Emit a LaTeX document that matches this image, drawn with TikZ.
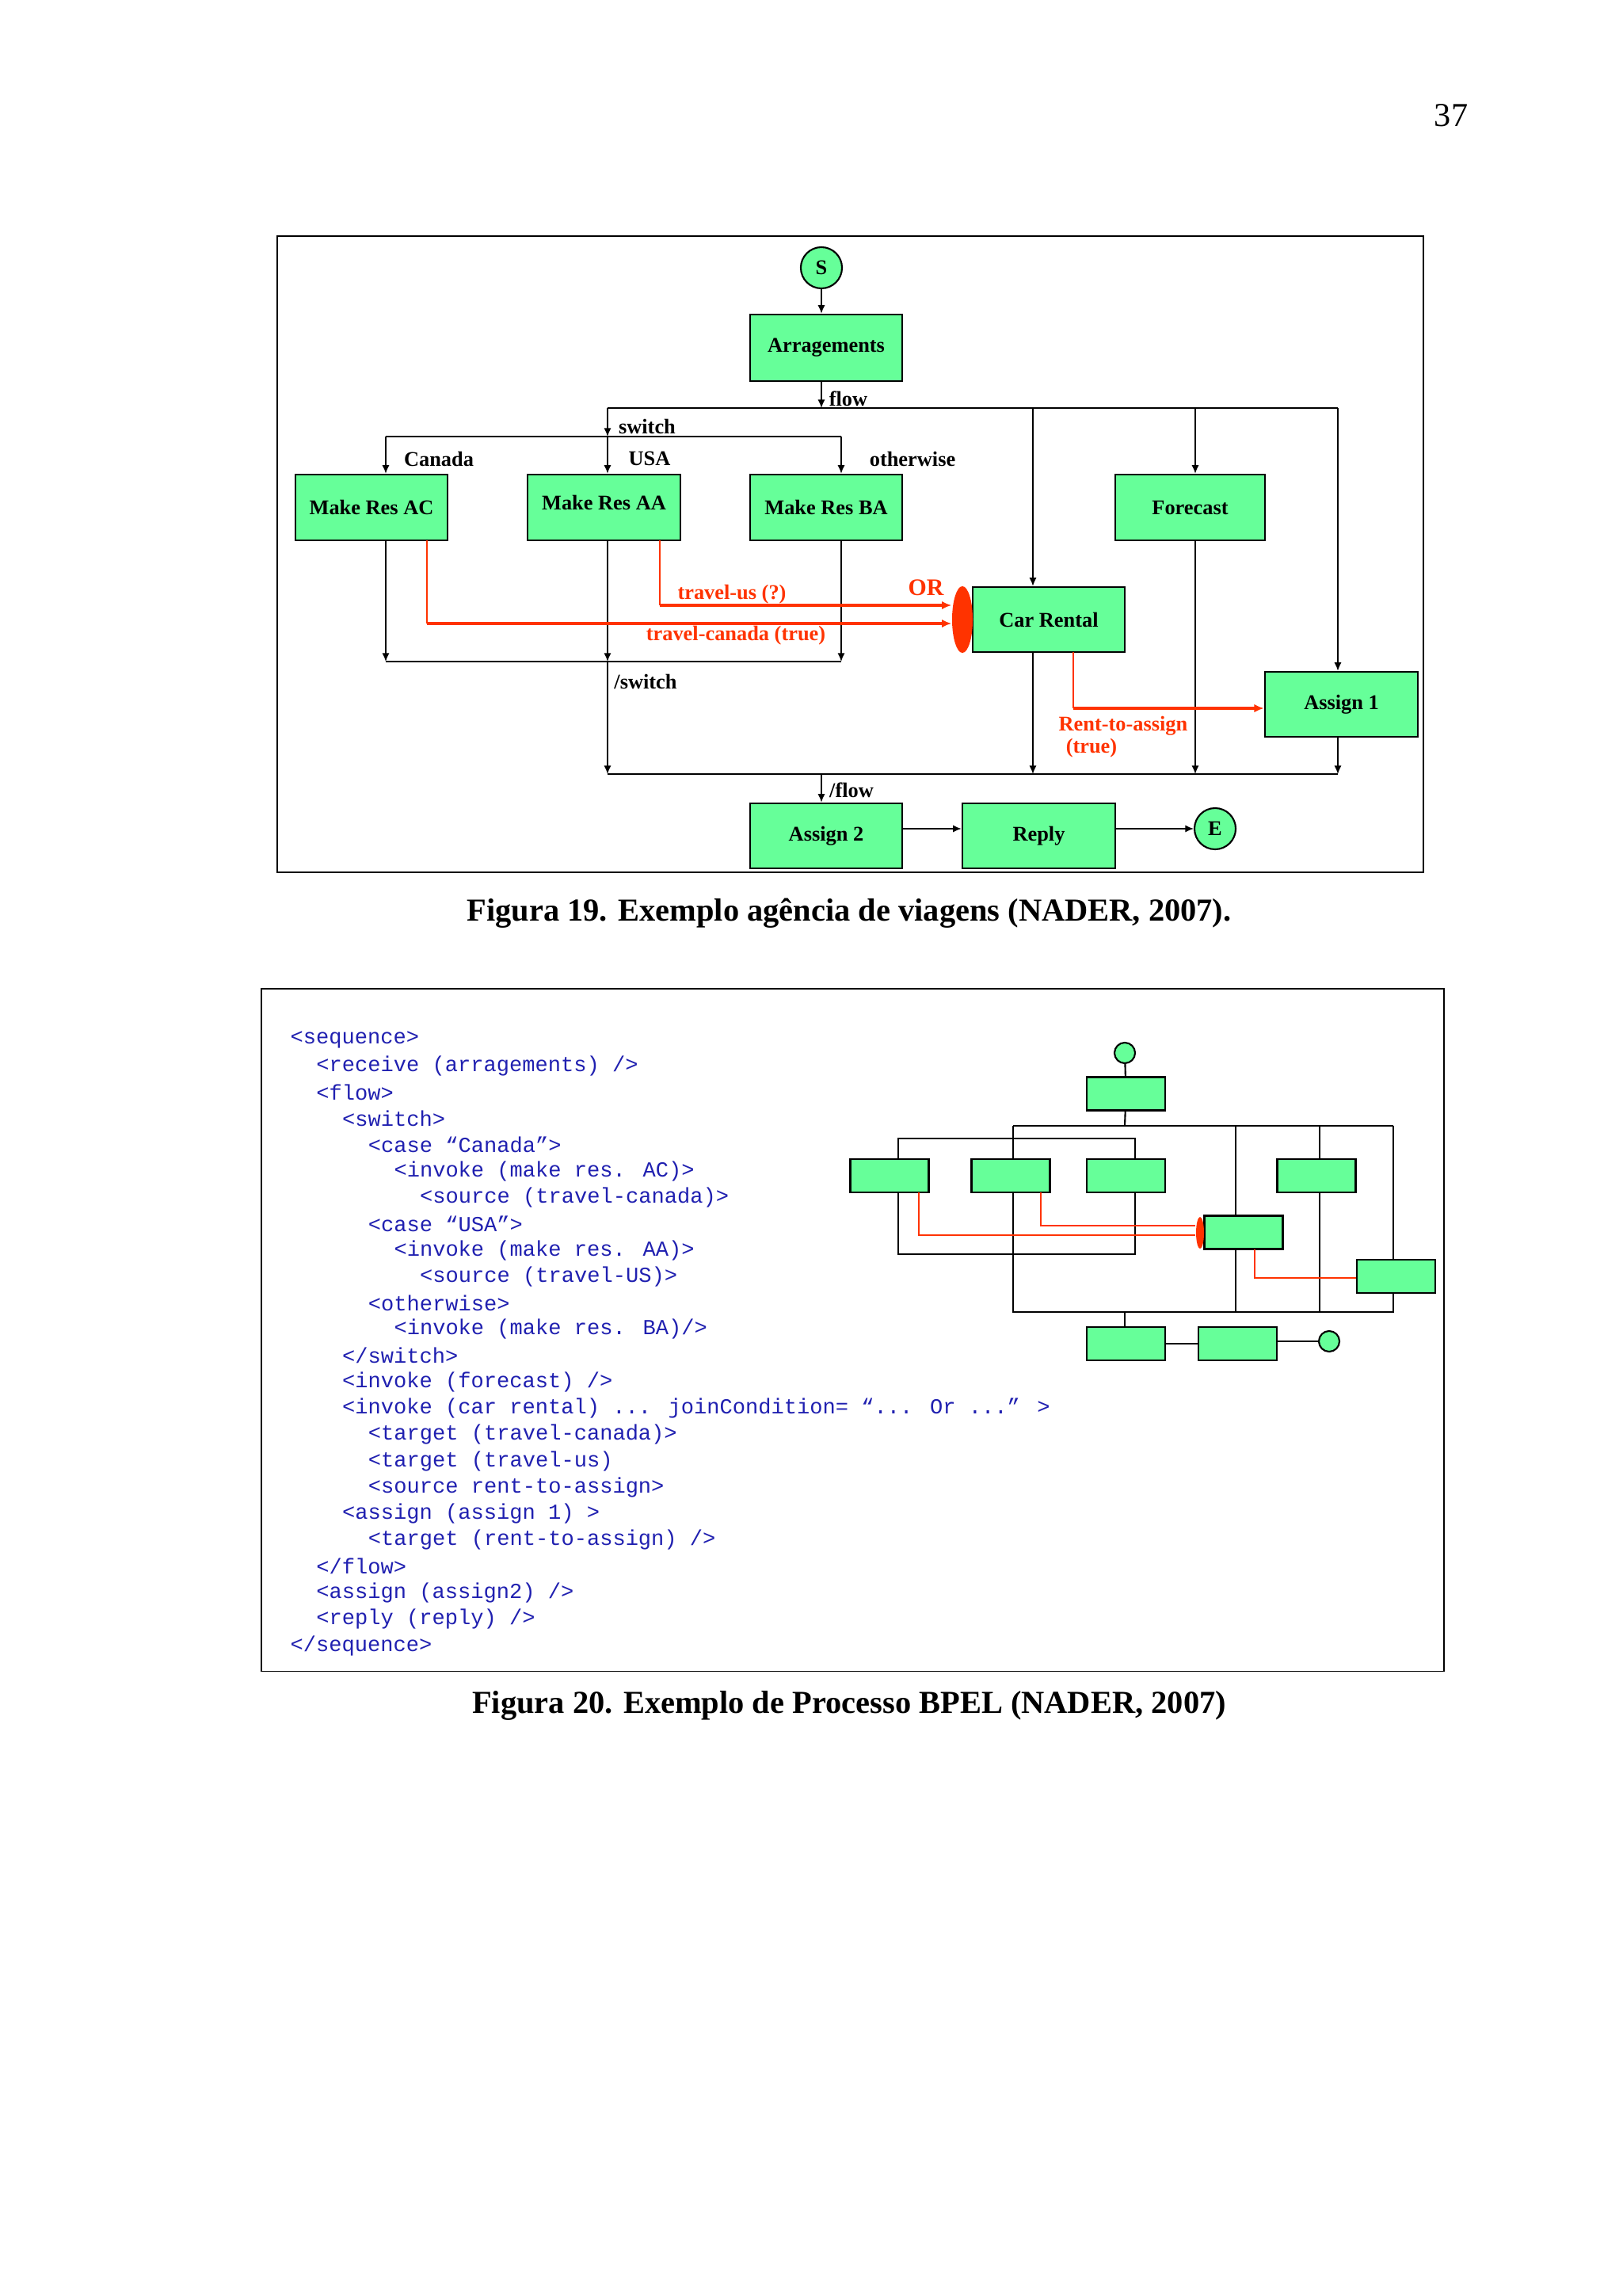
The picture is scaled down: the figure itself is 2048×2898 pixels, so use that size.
\documentclass[tikz,border=0pt]{standalone}
\usepackage{fontspec}
\setmainfont{Liberation Serif}
\newfontfamily\codefont{Liberation Mono}
\usetikzlibrary{arrows.meta,shapes.geometric}
\definecolor{bgreen}{HTML}{66FF99}
\definecolor{bred}{HTML}{FF3300}
\definecolor{cblue}{HTML}{2020B0}
\begin{document}
\begin{tikzpicture}[x=0.01cm,y=-0.01cm,
  box/.style={draw,fill=bgreen,line width=0.7pt,inner sep=0pt,font=\fontsize{7.5}{9}\selectfont\bfseries},
  circ/.style={draw,fill=bgreen,circle,line width=0.6pt,inner sep=0pt,minimum size=0.52cm,font=\fontsize{7.5}{9}\selectfont\bfseries},
  lbl/.style={font=\fontsize{7.5}{9}\selectfont\bfseries,inner sep=0pt},
  rlbl/.style={lbl,text=bred},
  arr/.style={-{Latex[length=3pt,width=2.6pt]},line width=0.45pt},
  ln/.style={line width=0.45pt},
  red/.style={draw=bred,line width=0.6pt},
  redarr/.style={draw=bred,line width=1.1pt,-{Latex[length=3.5pt,width=3pt]},color=bred},
  mbox/.style={draw,fill=bgreen,line width=0.7pt,minimum width=0.99cm,minimum height=0.42cm,inner sep=0pt},
  code/.style={anchor=west,inner sep=0pt,text=cblue,font=\codefont\fontsize{7.7}{9}\selectfont}
]
\useasboundingbox (0,0) rectangle (2048,2898);
\node[font=\fontsize{12}{14}\selectfont] (pg) at (1832,146) {37};

% ---------- Figure 19 ----------
\node[draw,line width=0.5pt,minimum width=14.46cm,minimum height=8.03cm,anchor=north west,inner sep=0pt] (f1) at (349,297) {};
\node[circ] (S) at (1037,338) {S};
\node[box,minimum width=1.92cm,minimum height=0.84cm] (arrg) at (1043,439) {Arragements};
\node[box,minimum width=1.92cm,minimum height=0.83cm] (ac) at (469,640.5) {Make Res AC};
\node[box,minimum width=1.93cm,minimum height=0.83cm,text depth=0.12cm] (aa) at (762.5,640.5) {Make Res AA};
\node[box,minimum width=1.92cm,minimum height=0.83cm] (ba) at (1043,640.5) {Make Res BA};
\node[box,minimum width=1.89cm,minimum height=0.83cm] (fc) at (1502.5,640.5) {Forecast};
\node[box,minimum width=1.92cm,minimum height=0.82cm] (cr) at (1324,782) {Car Rental};
\node[box,minimum width=1.93cm,minimum height=0.82cm] (a1) at (1693.5,889) {Assign 1};
\node[box,minimum width=1.92cm,minimum height=0.82cm] (a2) at (1043,1055) {Assign 2};
\node[box,minimum width=1.93cm,minimum height=0.82cm] (rp) at (1311.5,1055) {Reply};
\node[circ] (E) at (1534,1046) {E};
\node[fill=bred,ellipse,minimum width=0.26cm,minimum height=0.84cm,inner sep=0pt] (or) at (1215,782) {};

% coordinates
\coordinate (fl) at (1037,515); \coordinate (flL) at (767,515); \coordinate (flR) at (1689,515);
\coordinate (sw) at (767,551); \coordinate (swL) at (487,551); \coordinate (swR) at (1062,551);
\coordinate (sjL) at (487,835); \coordinate (sjM) at (767,835); \coordinate (sjR) at (1062,835);
\coordinate (fjL) at (767,977); \coordinate (fjR) at (1689,977); \coordinate (fjM) at (1037,977);
\coordinate (fjC) at (1304,977); \coordinate (fjF) at (1509,977);

\draw[arr] (S) -- (S|-arrg.north);
\draw[arr] (S|-arrg.south) -- (fl);
\draw[ln] (flL) -- (flR);
\draw[arr] (flL) -- (sw);
\draw[ln] (swL) -- (swR);
\draw[arr] (swL) -- (swL|-ac.north);
\draw[arr] (sw) -- (sw|-ac.north);
\draw[arr] (swR) -- (swR|-ac.north);
\draw[arr] (fjC|-fl) -- (fjC|-cr.north);
\draw[arr] (fjF|-fl) -- (fjF|-fc.north);
\draw[arr] (flR) -- (flR|-a1.north);
\draw[arr] (sjL|-ac.south) -- (sjL);
\draw[arr] (sjM|-ac.south) -- (sjM);
\draw[arr] (sjR|-ac.south) -- (sjR);
\draw[ln] (sjL) -- (sjR);
\draw[arr] (sjM) -- (fjL);
\draw[arr] (fjC|-cr.south) -- (fjC);
\draw[arr] (fjF|-fc.south) -- (fjF);
\draw[arr] (fjR|-a1.south) -- (fjR);
\draw[ln] (fjL) -- (fjR);
\draw[arr] (fjM) -- (fjM|-a2.north);
\draw[arr] (a2.east|-E) -- (rp.west|-E);
\draw[arr] (rp.east|-E) -- (E.west);

% red links
\draw[red] (833,682) -- (833,764);
\draw[redarr] (833,764) -- (or.west|-0,764);
\draw[red] (539,682) -- (539,787);
\draw[redarr] (539,787) -- (or.west|-0,787);
\draw[red] (1355,823) -- (1355,894);
\draw[redarr] (1355,894) -- (a1.west|-0,894);

% labels
\node[lbl] (lflow) at (1071,503) {flow};
\node[lbl] (lsw) at (817,538) {switch};
\node[lbl] (lca) at (554,579) {Canada};
\node[lbl] (lus) at (820,579) {USA};
\node[lbl] (lot) at (1152,579) {otherwise};
\node[rlbl] (ltu) at (924,750) {travel-us (?)};
\node[rlbl,font=\fontsize{8.5}{9}\selectfont\bfseries] (lor) at (1169,742) {OR};
\node[rlbl] (ltc) at (929,802) {travel-canada (true)};
\node[lbl] (lesw) at (815,860) {/switch};
\node[rlbl] (lrta) at (1418,916) {Rent-to-assign};
\node[rlbl] (ltr) at (1378,944) {(true)};
\node[lbl] (lefl) at (1075,997) {/flow};

\node[font=\fontsize{11.5}{13}\selectfont\bfseries] (cap1) at (1072,1153) {Figura 19. Exemplo agência de viagens (NADER, 2007).};

% ---------- Figure 20 ----------
\node[draw,line width=0.5pt,minimum width=14.92cm,minimum height=8.61cm,anchor=north west,inner sep=0pt] (f2) at (329,1247) {};

\foreach \i/\ind/\t in {
 0/0/{<sequence>},
 1/1/{<receive (arragements) />},
 2/1/{<flow>},
 3/2/{<switch>},
 4/3/{<case “Canada”>},
 5/4/{<invoke (make res. AC)>},
 6/5/{<source (travel-canada)>},
 7/3/{<case “USA”>},
 8/4/{<invoke (make res. AA)>},
 9/5/{<source (travel-US)>},
 10/3/{<otherwise>},
 11/4/{<invoke (make res. BA)/>},
 12/2/{</switch>},
 13/2/{<invoke (forecast) />},
 14/2/{<invoke (car rental) ... joinCondition= “... Or ...” >},
 15/3/{<target (travel-canada)>},
 16/3/{<target (travel-us)},
 17/3/{<source rent-to-assign>},
 18/2/{<assign (assign 1) >},
 19/3/{<target (rent-to-assign) />},
 20/1/{</flow>},
 21/1/{<assign (assign2) />},
 22/1/{<reply (reply) />},
 23/0/{</sequence>}}
 { \node[code] (c\i) at ({366+\ind*32.7},{1312+\i*33.26}) {\t}; }

% mini diagram lines
\coordinate (m0) at (1420,1421); \coordinate (m1) at (1279,1421); \coordinate (m2) at (1759,1421);
\coordinate (s1) at (1134,1437); \coordinate (s2) at (1433,1437);
\coordinate (sb1) at (1134,1583); \coordinate (sb2) at (1433,1583);
\coordinate (b1) at (1279,1656); \coordinate (b2) at (1759,1656); \coordinate (b0) at (1420,1656);
\draw[ln,line width=0.6pt] (m1) -- (m2);
\draw[ln,line width=0.6pt] (s1) -- (s2) -- (sb2) -- (sb1) -- cycle;
\draw[ln,line width=0.6pt] (m1) -- (b1) -- (b2) -- (m2);
\draw[ln] (1560,1421) -- (1560,1656);
\draw[ln] (1666,1421) -- (1666,1656);
\node[circ,minimum size=0.26cm] (ms) at (1420,1329) {};
\node[mbox] (mb0) at (1421.5,1380.5) {};
\draw[ln,line width=0.6pt] (ms) -- (mb0) -- (m0);
\draw[ln,line width=0.6pt] (b0) -- (1420,1675);
\node[mbox] (mr1) at (1123,1484) {};
\node[mbox] (mr2) at (1276,1484) {};
\node[mbox] (mr3) at (1421.5,1484) {};
\node[mbox] (mr4) at (1662,1484) {};
\node[mbox] (mcr) at (1570,1555.5) {};
\node[mbox] (ma1) at (1762.5,1611) {};
\node[mbox] (ma2) at (1421.5,1696) {};
\node[mbox] (mrp) at (1562.5,1696) {};
\node[circ,minimum size=0.26cm] (me) at (1678,1693) {};
\draw[ln,line width=0.6pt] (ma2) -- (mrp);
\draw[ln,line width=0.6pt] (mrp.east|-me) -- (me);
\node[fill=bred,ellipse,minimum width=0.1cm,minimum height=0.4cm,inner sep=0pt] (mor) at (1515,1556) {};
\draw[red] (1160,1505) -- (1160,1559) -- (mor.west|-0,1559);
\draw[red] (1314,1505) -- (1314,1547) -- (mor.west|-0,1547);
\draw[red] (1584,1577) -- (1584,1613) -- (ma1.west|-0,1613);

\node[font=\fontsize{11.5}{13}\selectfont\bfseries] (cap2) at (1072,2153) {Figura 20. Exemplo de Processo BPEL (NADER, 2007)};
\end{tikzpicture}
\end{document}
